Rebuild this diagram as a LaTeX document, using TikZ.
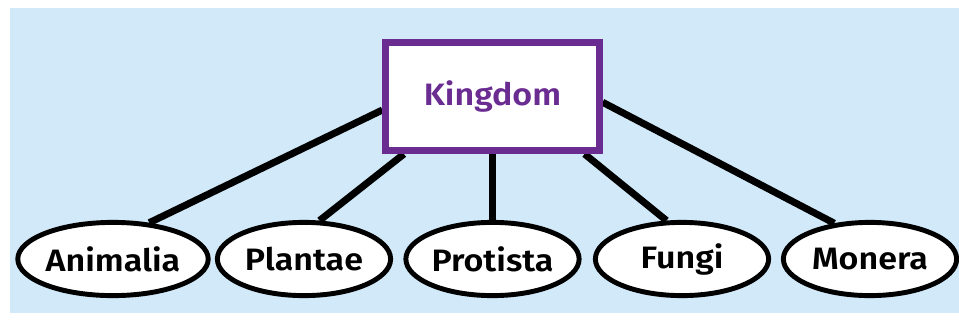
\documentclass[tikz,border=0pt]{standalone}
\usepackage{fontspec}
\setmainfont{Fira Sans}[FakeStretch=1.1, BoldFont={Fira Sans SemiBold}]
\usetikzlibrary{shapes.geometric}
\definecolor{bgblue}{RGB}{209,233,249}
\definecolor{kdpurple}{RGB}{106,44,145}
\pgfdeclarelayer{bg}
\pgfdeclarelayer{edges}
\pgfsetlayers{bg,edges,main}

\begin{document}
\begin{tikzpicture}[x=0.025cm, y=-0.025cm,
    kingdom/.style={rectangle, draw=kdpurple, fill=white, line width=5pt,
      minimum width=5.33cm, minimum height=2.7cm, text=kdpurple,
      font=\bfseries\fontsize{22}{26}\selectfont},
    taxon/.style={ellipse, draw, fill=white, line width=3.5pt, inner sep=0pt,
      minimum width=4.33cm, minimum height=1.83cm,
      font=\bfseries\fontsize{22}{26}\selectfont},
    link/.style={line width=5pt}]
    \useasboundingbox (0,0) rectangle (959,322);

    % 背景
    \begin{pgfonlayer}{bg}
      \fill[bgblue] (10,8) rectangle (959,313);
    \end{pgfonlayer}

    % 箱と楕円
    \node[kingdom] (K) at (492.5,96.5) {Kingdom};
    \node[taxon] (An) at (113,259) {Animalia};
    \node[taxon] (Pl) at (304,259) {Plantae};
    \node[taxon] (Pr) at (492.5,259) {Protista};
    \node[taxon] (Fu) at (682,259) {Fungi};
    \node[taxon] (Mo) at (870,259) {Monera};

    % 線を引く
    \begin{pgfonlayer}{edges}
      \draw[link] (An.45) -- (K.187);
      \draw[link] (Pl.68) -- (K.213);
      \draw[link] (Pr.north) -- (K.south);
      \draw[link] (Fu.112) -- (K.-32);
      \draw[link] (Mo.135) -- (K.-3);
    \end{pgfonlayer}

\end{tikzpicture}
\end{document}
